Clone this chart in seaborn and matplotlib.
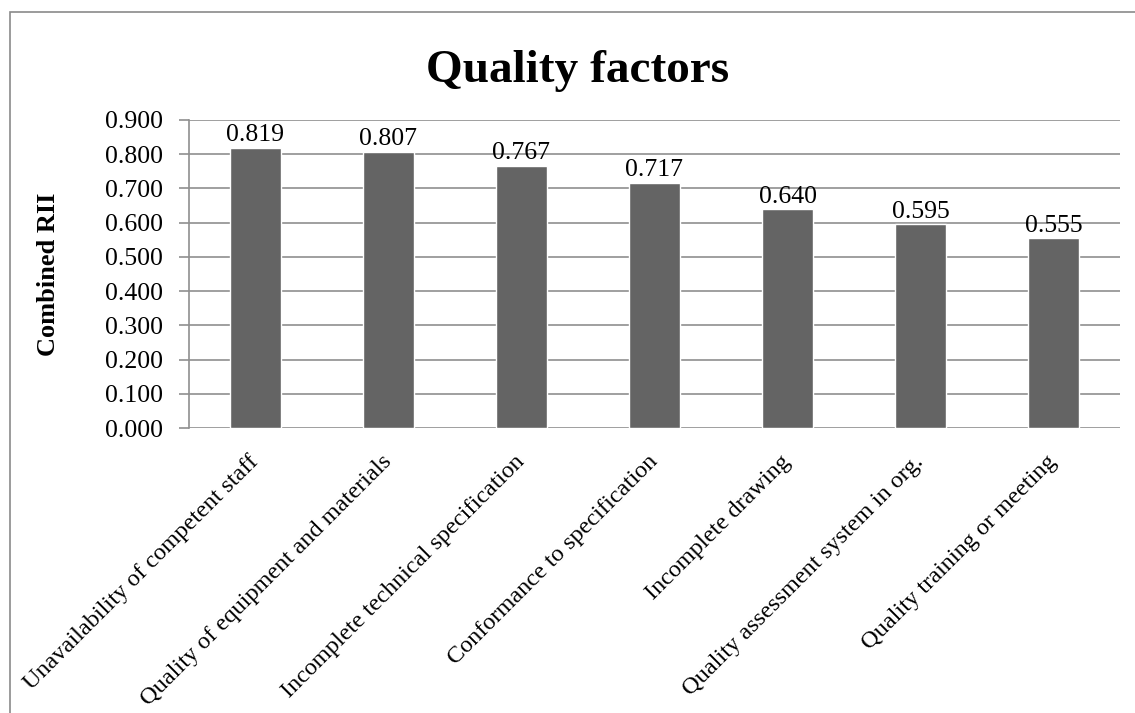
import matplotlib
matplotlib.use("Agg")
import matplotlib.pyplot as plt
import matplotlib.ticker as mticker
from matplotlib.patches import Rectangle
import seaborn as sns
import pandas as pd

factors = [
    "Unavailability of competent staff",
    "Quality of equipment and materials",
    "Incomplete technical specification",
    "Conformance to specification",
    "Incomplete drawing",
    "Quality assessment system in org.",
    "Quality training or meeting",
]
rii = [0.819, 0.807, 0.767, 0.717, 0.640, 0.595, 0.555]
y_ticks = [0.0, 0.1, 0.2, 0.3, 0.4, 0.5, 0.6, 0.7, 0.8, 0.9]

df = pd.DataFrame({"factor": factors, "rii": rii})

sns.set_theme(style="white")
plt.rcParams["font.family"] = ["Liberation Serif", "DejaVu Serif"]
plt.rcParams["text.color"] = "black"
plt.rcParams["axes.labelcolor"] = "black"

grid_col = "#8f8f8f"
bar_col = "#646464"

fig = plt.figure(figsize=(11.35, 7.13), dpi=100)
ax = fig.add_axes([0.1665, 0.3997, 0.8203, 0.4320])

sns.barplot(data=df, x="factor", y="rii", color=bar_col, width=0.39,
            saturation=1, ax=ax, zorder=3)

ax.set_ylim(0, 0.9)
ax.set_xlim(-0.5, len(factors) - 0.5)
ax.set_yticks(y_ticks)
ax.yaxis.set_major_formatter(mticker.FormatStrFormatter("%.3f"))
ax.grid(axis="y", color=grid_col, linewidth=1.2, zorder=0)
ax.grid(axis="x", visible=False)

for side in ["top", "right", "bottom"]:
    ax.spines[side].set_visible(False)
ax.spines["left"].set_color(grid_col)
ax.spines["left"].set_linewidth(1.2)

ax.tick_params(axis="y", which="major", left=True, length=7, width=1.2,
               color=grid_col, labelsize=18.5, pad=12, labelcolor="black")
ax.tick_params(axis="x", length=0, pad=22, labelsize=17.5, labelcolor="black")
ax.set_xticks(range(len(factors)))
ax.set_xticklabels(factors, rotation=45, ha="right", rotation_mode="anchor",
                   va="center")

ax.set_xlabel("")
ax.set_ylabel("Combined RII", fontsize=19, fontweight="bold", labelpad=32,
              color="black")

for cont in ax.containers:
    ax.bar_label(cont, fmt="%.3f", padding=1, fontsize=18.5, color="black")

fig.text(0.509, 0.9, "Quality factors", ha="center", va="center",
         fontsize=34, fontweight="bold", color="black")

# outer chart frame
fig.patches.append(Rectangle((10 / 1135, -0.2), 1.2, 1.2 - 12 / 713,
                             transform=fig.transFigure, fill=False,
                             edgecolor="#8a8a8a", linewidth=1.2))

fig.savefig("out.png", dpi=100, facecolor="white")
